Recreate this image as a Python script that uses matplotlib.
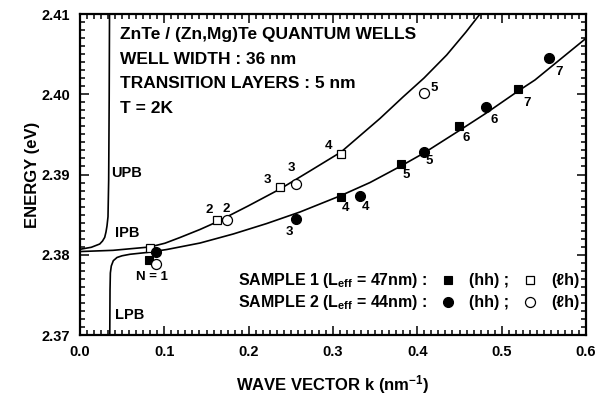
import matplotlib
matplotlib.use('Agg')
import matplotlib.pyplot as plt
from matplotlib.ticker import MultipleLocator

plt.rcParams['font.family'] = ['Liberation Sans', 'DejaVu Sans']
plt.rcParams['font.weight'] = 'bold'
plt.rcParams['mathtext.fontset'] = 'custom'
plt.rcParams['mathtext.rm'] = 'Liberation Sans:bold'
plt.rcParams['mathtext.it'] = 'Liberation Sans:bold'
plt.rcParams['mathtext.bf'] = 'Liberation Sans:bold'
plt.rcParams['mathtext.default'] = 'rm'

# ---------------- data ----------------
# theoretical polariton branches
upb_k = [0.0, 0.0134, 0.0234, 0.0267, 0.0293, 0.0308, 0.0320, 0.0332, 0.0340, 0.0346, 0.0350]
upb_e = [2.38068, 2.38093, 2.38134, 2.38171, 2.38217, 2.38283, 2.38358, 2.38474, 2.38931, 2.39928, 2.41000]

ipb_k = [0.0, 0.0391, 0.0830, 0.1008, 0.1186, 0.1423, 0.1621, 0.1992, 0.2372, 0.2727,
         0.3095, 0.3557, 0.3830, 0.4079, 0.4348, 0.4577, 0.4743]
ipb_e = [2.38040, 2.38055, 2.38097, 2.38144, 2.38215, 2.38315, 2.38408, 2.38607, 2.38819, 2.39044,
         2.39280, 2.39698, 2.39966, 2.40202, 2.40489, 2.40776, 2.41000]

lpb_k = [0.0353, 0.0356, 0.0360, 0.0371, 0.0395, 0.0439, 0.0498, 0.0593, 0.0791, 0.1028,
         0.1423, 0.1818, 0.2214, 0.2609, 0.3095, 0.3439, 0.3806, 0.4079, 0.4498, 0.4818,
         0.5197, 0.5395, 0.5692, 0.6000]
lpb_e = [2.37000, 2.37561, 2.37773, 2.37860, 2.37926, 2.37966, 2.37987, 2.38006, 2.38028, 2.38065,
         2.38146, 2.38259, 2.38389, 2.38533, 2.38738, 2.38900, 2.39106, 2.39268, 2.39548, 2.39766,
         2.40041, 2.40178, 2.40433, 2.40697]

# sample 1, heavy hole (filled squares) and light hole (open squares)
s1_hh_k = [0.0822, 0.3095, 0.3806, 0.4498, 0.5198]
s1_hh_e = [2.3793, 2.3872, 2.3913, 2.3960, 2.4006]
s1_hh_n = ['', '4', '5', '6', '7']

s1_lh_k = [0.0830, 0.1620, 0.2370, 0.3095]
s1_lh_e = [2.3808, 2.3843, 2.3884, 2.3926]
s1_lh_n = ['', '2', '3', '4']

# sample 2, heavy hole (filled circles) and light hole (open circles)
s2_hh_k = [0.0901, 0.2557, 0.3320, 0.4080, 0.4818, 0.5558]
s2_hh_e = [2.3803, 2.3844, 2.3873, 2.3928, 2.3984, 2.4045]
s2_hh_n = ['', '3', '4', '5', '6', '7']

s2_lh_k = [0.0901, 0.1747, 0.2557, 0.4080]
s2_lh_e = [2.3789, 2.3843, 2.3888, 2.4002]
s2_lh_n = ['', '2', '3', '5']

x_ticks = [0.0, 0.1, 0.2, 0.3, 0.4, 0.5, 0.6]
y_ticks = [2.37, 2.38, 2.39, 2.40, 2.41]

# label offsets in pixels (layout)
s1_hh_off = [(0, 0), (4.7, -10.7), (5.7, -11.3), (7.3, -11.7), (8.3, -13.3)]
s1_lh_off = [(0, 0), (-7.3, 10), (-12.3, 7.7), (-12.7, 7.3)]
s2_hh_off = [(0, 0), (-6.3, -12.3), (5.7, -10.7), (5.3, -9), (7.7, -12.7), (10.7, -14.3)]
s2_lh_off = [(0, 0), (-0.7, 11.7), (-4, 15.7), (10.3, 5)]

# ---------------- figure ----------------
W, H = 608, 398
fig = plt.figure(figsize=(W / 100, H / 100), dpi=100)
L, R, T, B = 80, 586, 14, 335
ax = fig.add_axes([L / W, (H - B) / H, (R - L) / W, (B - T) / H])


def P(px, py):
    return ((px - L) / (R - L), (B - py) / (B - T))


ax.set_xlim(0.0, 0.6)
ax.set_ylim(2.37, 2.41)

lw = 1.2
ax.plot(upb_k, upb_e, color='black', lw=lw, zorder=2, solid_joinstyle='round')
ax.plot(ipb_k, ipb_e, color='black', lw=lw, zorder=2, solid_joinstyle='round')
ax.plot(lpb_k, lpb_e, color='black', lw=lw, zorder=2, solid_joinstyle='round')

sq_filled = dict(marker='s', ms=6.3, mfc='black', mec='black', mew=0.8, ls='none', zorder=4)
sq_open = dict(marker='s', ms=6.3, mfc='white', mec='black', mew=0.9, ls='none', zorder=4)
ci_filled = dict(marker='o', ms=7.2, mfc='black', mec='black', mew=0.8, ls='none', zorder=4)
ci_open = dict(marker='o', ms=7.2, mfc='white', mec='black', mew=0.9, ls='none', zorder=4)

ax.plot(s1_hh_k, s1_hh_e, **sq_filled)
ax.plot(s1_lh_k, s1_lh_e, **sq_open)
ax.plot(s2_hh_k, s2_hh_e, **ci_filled)
ax.plot(s2_lh_k, s2_lh_e, **ci_open)

fs_num = 9.5
for ks, es, ns, offs in [(s1_hh_k, s1_hh_e, s1_hh_n, s1_hh_off),
                         (s1_lh_k, s1_lh_e, s1_lh_n, s1_lh_off),
                         (s2_hh_k, s2_hh_e, s2_hh_n, s2_hh_off),
                         (s2_lh_k, s2_lh_e, s2_lh_n, s2_lh_off)]:
    for k, e, n, o in zip(ks, es, ns, offs):
        if n:
            ax.annotate(n, (k, e), xytext=o, textcoords='offset pixels',
                        ha='center', va='center', fontsize=fs_num, fontweight='bold')

# branch labels
fs = 10.5
ax.text(*P(111.3, 172.7), 'UPB', transform=ax.transAxes, ha='left', va='center', fontsize=fs, fontweight='bold')
ax.text(*P(115.3, 233.3), 'IPB', transform=ax.transAxes, ha='left', va='center', fontsize=fs, fontweight='bold')
ax.text(*P(115.0, 315.0), 'LPB', transform=ax.transAxes, ha='left', va='center', fontsize=fs, fontweight='bold')
ax.text(*P(151.7, 276.7), 'N = 1', transform=ax.transAxes, ha='center', va='center', fontsize=fs_num, fontweight='bold')

# header block
header = ['ZnTe / (Zn,Mg)Te QUANTUM WELLS', 'WELL WIDTH : 36 nm',
          'TRANSITION LAYERS : 5 nm', 'T = 2K']
for line, yb in zip(header, [39, 64, 88.5, 113.3]):
    ax.text(*P(120, yb), line, transform=ax.transAxes, ha='left', va='baseline',
            fontsize=12.5, fontweight='bold')

# legend block
fl = 11.5
rows = [('SAMPLE 1 (L$_{\\mathrm{eff}}$ = 47nm) :', sq_filled, sq_open, 285),
        ('SAMPLE 2 (L$_{\\mathrm{eff}}$ = 44nm) :', ci_filled, ci_open, 307.3)]
for txt, mf, mo, yb in rows:
    ax.text(*P(238.3, yb), txt, transform=ax.transAxes, ha='left', va='baseline',
            fontsize=fl, fontweight='bold')
    ax.plot(*P(448.3, yb - 5), transform=ax.transAxes, clip_on=False, **mf)
    ax.text(*P(469.3, yb), '(hh) ;', transform=ax.transAxes, ha='left', va='baseline',
            fontsize=fl, fontweight='bold')
    ax.plot(*P(530, yb - 5), transform=ax.transAxes, clip_on=False, **mo)
    ax.text(*P(551.7, yb), '(\u2113h)', transform=ax.transAxes, ha='left', va='baseline',
            fontsize=fl, fontweight='bold')

# axes styling
ax.set_xticks(x_ticks)
ax.set_xticklabels([f'{v:.1f}' for v in x_ticks])
ax.set_yticks(y_ticks)
ax.set_yticklabels([f'{v:.2f}' for v in y_ticks])
ax.xaxis.set_minor_locator(MultipleLocator(0.1 / 12))
ax.yaxis.set_minor_locator(MultipleLocator(0.001))
ax.tick_params(which='both', direction='in', top=True, right=True, width=1.1)
ax.tick_params(which='major', length=6.5, labelsize=10.5, pad=7)
ax.tick_params(which='minor', length=3.5)
for lab in ax.get_xticklabels() + ax.get_yticklabels():
    lab.set_fontweight('bold')
for s in ax.spines.values():
    s.set_linewidth(1.6)

ax.set_xlabel('WAVE VECTOR k (nm$^{-1}$)', fontsize=12, fontweight='bold', labelpad=10)
ax.set_ylabel('ENERGY (eV)', fontsize=12, fontweight='bold', labelpad=1)

fig.savefig('out.png', dpi=100)
